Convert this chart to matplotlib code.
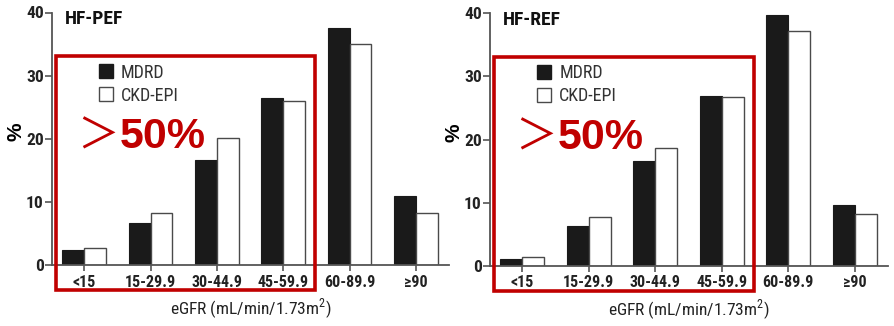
import matplotlib
matplotlib.use("Agg")
import matplotlib.pyplot as plt
from matplotlib import font_manager
from matplotlib.patches import Rectangle, Patch
import numpy as np

categories = ["<15", "15-29.9", "30-44.9", "45-59.9", "60-89.9", "\u226590"]
pef_mdrd = [2.4, 6.7, 16.7, 26.5, 37.6, 11.0]
pef_ckd = [2.7, 8.2, 20.1, 26.0, 35.0, 8.3]
ref_mdrd = [1.1, 6.3, 16.6, 26.9, 39.7, 9.6]
ref_ckd = [1.3, 7.7, 18.7, 26.8, 37.2, 8.2]
panel_titles = ["HF-PEF", "HF-REF"]
series_names = ["MDRD", "CKD-EPI"]
yticks = [0, 10, 20, 30, 40]

# pick a narrow sans-serif face for the labels
installed = {f.name for f in font_manager.fontManager.ttflist}
narrow = "Liberation Sans"
for cand in ["Liberation Sans Narrow", "Arial Narrow", "Roboto Condensed",
             "Archivo Narrow", "PT Sans Narrow"]:
    if cand in installed:
        narrow = cand
        break
plt.rcParams["font.family"] = [narrow, "DejaVu Sans"]

fig = plt.figure(figsize=(8.94, 3.26), dpi=100)
W, H = 894, 326
axes_px = [(52, 265, 397, 252.5), (490, 265.7, 398, 252.4)]

dark = "#1a1a1a"
edge = "#4a4a4a"
red = "#c00000"
bw = 0.33

for i, (vals_a, vals_b) in enumerate([(pef_mdrd, pef_ckd), (ref_mdrd, ref_ckd)]):
    x0, y0, w, h = axes_px[i]
    ax = fig.add_axes([x0 / W, (H - y0) / H, w / W, h / H])
    x = np.arange(len(categories))
    ax.bar(x - bw / 2, vals_a, bw, color=dark, edgecolor=dark, linewidth=0.8)
    ax.bar(x + bw / 2, vals_b, bw, color="white", edgecolor=edge, linewidth=1.0)
    ax.set_xlim(-0.485, 5.5)
    ax.set_ylim(0, 40)
    ax.set_yticks(yticks)
    ax.set_xticks(x)
    ax.set_xticklabels(categories, fontsize=11.5, fontweight="bold", color="#222222")
    ax.set_yticklabels([str(t) for t in yticks], fontsize=12.5, fontweight="bold", color="#222222")
    for s in ("top", "right"):
        ax.spines[s].set_visible(False)
    for s in ("left", "bottom"):
        ax.spines[s].set_color("#555555")
        ax.spines[s].set_linewidth(1.3)
    ax.tick_params(axis="y", length=5, width=1.2, color="#555555", pad=1)
    ax.tick_params(axis="x", length=4, width=1.2, color="#555555", pad=3)
    ax.set_ylabel("%", fontsize=15, fontweight="bold",
                  family=["Liberation Sans", "DejaVu Sans"])
    ax.yaxis.set_label_coords(-0.066, 0.527)
    ax.set_xlabel("eGFR (mL/min/1.73m$^{\\mathregular{2}}$)", fontsize=12.5, color="#222222")
    ax.xaxis.set_label_coords(0.5, -0.125)

    ax.text(0.033, 0.974, panel_titles[i], transform=ax.transAxes, fontsize=14,
            fontweight="bold", color="#111111", va="center", ha="left")

    handles = [Patch(facecolor=dark, edgecolor=dark), Patch(facecolor="white", edgecolor=edge)]
    ax.legend(handles, series_names, loc="upper left", bbox_to_anchor=(0.118, 0.798),
              frameon=False, fontsize=13, handlelength=0.78, handleheight=0.78,
              handletextpad=0.45, labelspacing=0.28, borderpad=0, borderaxespad=0,
              labelcolor="#333333")

    # highlighted region covering the four lower eGFR groups
    box = Rectangle((-0.42, -4.0), 3.9, 37.1, fill=False, edgecolor=red,
                    linewidth=2.6, clip_on=False, zorder=5)
    ax.add_patch(box)
    ax.text(0.064, 0.505, "\uff1e", transform=ax.transAxes, fontsize=30, color=red,
            family=["Noto Sans CJK SC", "DejaVu Sans"], ha="left", va="center")
    ax.text(0.17, 0.463, "50%", transform=ax.transAxes, fontsize=31, color=red,
            fontweight="bold", family=["Liberation Sans", "DejaVu Sans"],
            ha="left", va="baseline")

fig.savefig("out.png", dpi=100)
